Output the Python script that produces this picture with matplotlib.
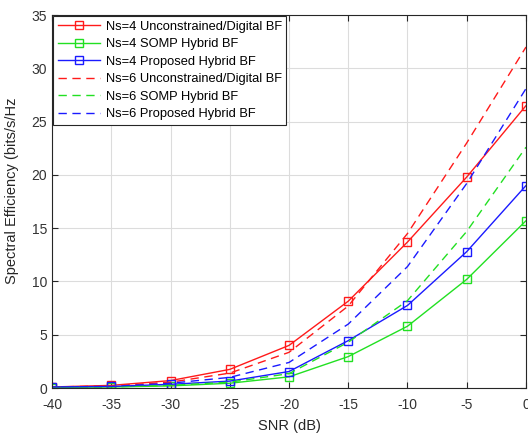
import matplotlib
matplotlib.use("Agg")
import matplotlib.pyplot as plt

# ---------------------------------------------------------------------------
# Data
# ---------------------------------------------------------------------------
snr_db = [-40, -35, -30, -25, -20, -15, -10, -5, 0]

ns4_digital  = [0.10, 0.25, 0.70, 1.75, 4.00, 8.15, 13.7, 19.8, 26.5]
ns4_somp     = [0.05, 0.10, 0.20, 0.45, 1.05, 2.95, 5.8, 10.2, 15.7]
ns4_proposed = [0.10, 0.15, 0.35, 0.65, 1.55, 4.45, 7.75, 12.8, 19.0]

ns6_digital  = [0.10, 0.20, 0.55, 1.40, 3.35, 7.70, 14.5, 23.0, 32.0]
ns6_somp     = [0.05, 0.10, 0.25, 0.55, 1.35, 4.30, 8.2, 14.7, 22.6]
ns6_proposed = [0.10, 0.15, 0.45, 1.00, 2.40, 6.00, 11.4, 19.2, 28.1]

x_ticks = [-40, -35, -30, -25, -20, -15, -10, -5, 0]
y_ticks = [0, 5, 10, 15, 20, 25, 30, 35]

RED, GREEN, BLUE = "#ff1a1a", "#22e022", "#1a1aff"

plt.rcParams["font.family"] = ["Liberation Sans", "DejaVu Sans"]
plt.rcParams["axes.unicode_minus"] = False

fig = plt.figure(figsize=(5.28, 4.36), dpi=100)
ax = fig.add_axes([0.0985, 0.110, 0.8977, 0.8555])

mk = dict(marker="s", markersize=5.5, markerfacecolor="none", markeredgewidth=1.0)
ax.plot(snr_db, ns4_digital, color=RED, lw=1.0, label="Ns=4 Unconstrained/Digital BF", **mk)
ax.plot(snr_db, ns4_somp, color=GREEN, lw=1.0, label="Ns=4 SOMP Hybrid BF", **mk)
ax.plot(snr_db, ns4_proposed, color=BLUE, lw=1.0, label="Ns=4 Proposed Hybrid BF", **mk)
ax.plot(snr_db, ns6_digital, color=RED, lw=1.0, ls=(0, (6, 4)), label="Ns=6 Unconstrained/Digital BF")
ax.plot(snr_db, ns6_somp, color=GREEN, lw=1.0, ls=(0, (6, 4)), label="Ns=6 SOMP Hybrid BF")
ax.plot(snr_db, ns6_proposed, color=BLUE, lw=1.0, ls=(0, (6, 4)), label="Ns=6 Proposed Hybrid BF")

ax.set_xlim(-40, 0)
ax.set_ylim(0, 35)
ax.set_xticks(x_ticks)
ax.set_yticks(y_ticks)
ax.tick_params(direction="in", top=True, right=True, labelsize=10,
               labelcolor="#333333", colors="#262626", length=4, width=0.8)
ax.tick_params(axis="x", pad=7)
ax.grid(True, color="#dcdcdc", linewidth=0.8)
for sp in ax.spines.values():
    sp.set_color("#262626")
    sp.set_linewidth(0.8)

ax.set_xlabel("SNR (dB)", fontsize=10.5, color="#262626", labelpad=5)
ax.set_ylabel("Spectral Efficiency (bits/s/Hz", fontsize=10.5, color="#262626")
ax.yaxis.set_label_coords(-0.069, 0.528)

leg = ax.legend(loc="upper left", fontsize=9.3, handlelength=3.3, handletextpad=0.4,
                labelspacing=0.42, borderaxespad=0.1, borderpad=0.35,
                fancybox=False, framealpha=1.0, edgecolor="#262626")
leg.get_frame().set_linewidth(0.8)

fig.savefig("out.png", dpi=100)
